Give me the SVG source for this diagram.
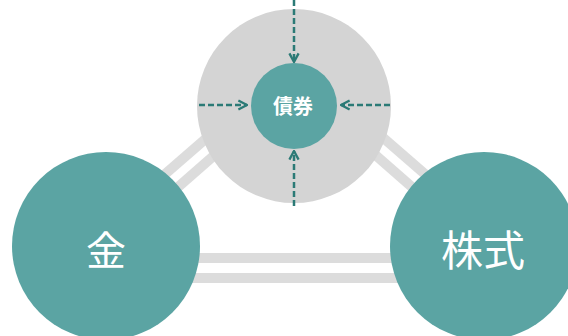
<svg xmlns="http://www.w3.org/2000/svg" width="568" height="336" viewBox="0 0 568 336">
  <defs>
    <style>
      .bar { stroke: #dcdcdc; stroke-width: 10; fill: none; }
      .teal { fill: #5ba4a3; }
      .hub { fill: #d4d4d4; }
      .flow { stroke: #2b7a76; stroke-width: 2.5; fill: none; stroke-dasharray: 6 3; }
      .lbl { fill: #ffffff; font-family: "Noto Sans CJK JP", "Noto Sans CJK SC", sans-serif; text-anchor: middle; dominant-baseline: central; }
    </style>
    <marker id="chev" viewBox="0 0 10 10" refX="9" refY="5" markerWidth="4.6" markerHeight="4.6" orient="auto" markerUnits="strokeWidth">
      <path d="M1.5,1 L9,5 L1.5,9" fill="none" stroke="#2b7a76" stroke-width="2"/>
    </marker>
  </defs>
  <rect width="568" height="336" fill="#ffffff"/>
  <g id="connectors">
    <line class="bar" x1="130" y1="204.5" x2="240" y2="109"/>
    <line class="bar" x1="141" y1="219.5" x2="250" y2="124"/>
    <line class="bar" x1="460" y1="204.5" x2="350" y2="109"/>
    <line class="bar" x1="449" y1="219.5" x2="340" y2="124"/>
    <line class="bar" x1="106" y1="258" x2="484" y2="258"/>
    <line class="bar" x1="106" y1="278" x2="484" y2="278"/>
  </g>
  <g id="node-bonds-hub">
    <circle class="hub" cx="294" cy="106" r="97"/>
  </g>
  <g id="flows">
    <line class="flow" x1="294" y1="0" x2="294" y2="62" marker-end="url(#chev)"/>
    <line class="flow" x1="294" y1="206" x2="294" y2="151" marker-end="url(#chev)"/>
    <line class="flow" x1="199" y1="105" x2="247" y2="105" marker-end="url(#chev)"/>
    <line class="flow" x1="390" y1="105" x2="341" y2="105" marker-end="url(#chev)"/>
  </g>
  <g id="node-bonds">
    <circle class="teal" cx="294" cy="106" r="43"/>
    <text class="lbl" x="293" y="105" font-size="20" font-weight="bold">債券</text>
  </g>
  <g id="node-gold">
    <circle class="teal" cx="106" cy="246" r="94"/>
    <text class="lbl" x="106" y="248" font-size="40">金</text>
  </g>
  <g id="node-stocks">
    <circle class="teal" cx="484" cy="246" r="94"/>
    <text class="lbl" x="483" y="247" font-size="42">株式</text>
  </g>
</svg>
